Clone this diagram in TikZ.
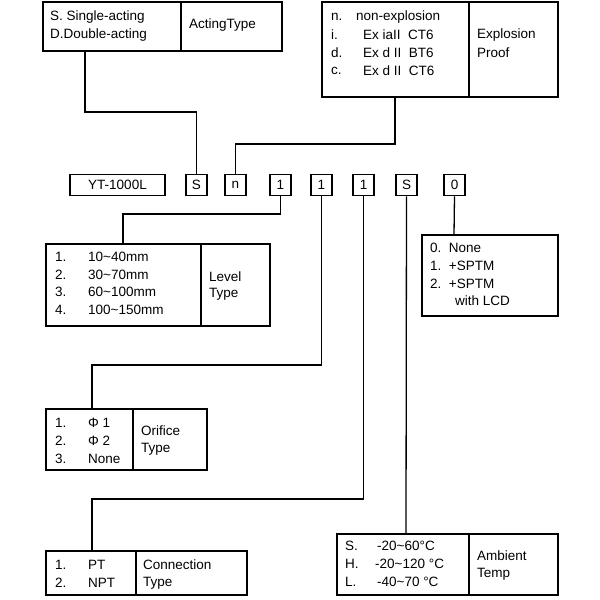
\documentclass[tikz,border=0pt]{standalone}
\usepackage{fontspec}
\setmainfont{Liberation Sans}
\begin{document}
\begin{tikzpicture}[x=1pt,y=-1pt,
  box/.style={draw,line width=1.6pt},
  t/.style={anchor=west,inner sep=0pt,font=\fontsize{13.5}{15}\selectfont},
  code/.style={draw,line width=1.5pt,inner sep=0pt,minimum height=21pt,minimum width=21pt,font=\fontsize{13.5}{15}\selectfont},
  con/.style={line width=1.3pt}]
\useasboundingbox (0,0) rectangle (600,600);
% boxes
\draw[box] (43,2) rectangle (282,51) (181,2)--(181,51);
\draw[box] (322,2) rectangle (558,97) (469,2)--(469,97);
\draw[box] (46,244) rectangle (270,326) (201,244)--(201,326);
\draw[box] (422,235) rectangle (558,316);
\draw[box] (46,409) rectangle (207,470) (133,409)--(133,470);
\draw[box] (46,551) rectangle (247,595) (136,551)--(136,595);
\draw[box] (337,534) rectangle (558,595) (469,534)--(469,595);
% texts
\node[t] (a1) at (50,17) {S. Single-acting};
\node[t] (a2) at (50,35) {D.Double-acting};
\node[t] (a3) at (189,25) {ActingType};
\node[t] (e1) at (331,17) {n.};\node[t] (e1b) at (356,17) {non-explosion};
\node[t] (e2) at (331,35) {i.};\node[t] (e2b) at (363,35) {Ex iaII\ \ CT6};
\node[t] (e3) at (331,53) {d.};\node[t] (e3b) at (363,53) {Ex d II\ \ BT6};
\node[t] (e4) at (331,71) {c.};\node[t] (e4b) at (363,71) {Ex d II\ \ CT6};
\node[t] (e5) at (477,35) {Explosion};
\node[t] (e6) at (477,53) {Proof};
\node[t] (l1) at (55,257) {1.};\node[t] (l1b) at (88,257) {10\textasciitilde40mm};
\node[t] (l2) at (55,275) {2.};\node[t] (l2b) at (88,275) {30\textasciitilde70mm};
\node[t] (l3) at (55,292) {3.};\node[t] (l3b) at (88,292) {60\textasciitilde100mm};
\node[t] (l4) at (55,310) {4.};\node[t] (l4b) at (88,310) {100\textasciitilde150mm};
\node[t] (l5) at (209,277) {Level};
\node[t] (l6) at (209,294) {Type};
\node[t] (z1) at (430,248) {0.\ \ None};
\node[t] (z2) at (430,266) {1.\ \ +SPTM};
\node[t] (z3) at (430,284) {2.\ \ +SPTM};
\node[t] (z4) at (455,301) {with LCD};
\node[t] (o1) at (55,423) {1.};\node[t] (o1b) at (88,423) {Φ 1};
\node[t] (o2) at (55,441) {2.};\node[t] (o2b) at (88,441) {Φ 2};
\node[t] (o3) at (55,459) {3.};\node[t] (o3b) at (88,459) {None};
\node[t] (o4) at (141,431) {Orifice};
\node[t] (o5) at (141,449) {Type};
\node[t] (c1) at (55,565) {1.};\node[t] (c1b) at (88,565) {PT};
\node[t] (c2) at (55,583) {2.};\node[t] (c2b) at (88,583) {NPT};
\node[t] (c3) at (143,565) {Connection};
\node[t] (c4) at (143,583) {Type};
\node[t] (m1) at (345,546) {S.};\node[t] (m1b) at (377,546) {-20\textasciitilde60°C};
\node[t] (m2) at (345,564) {H.};\node[t] (m2b) at (375,564) {-20\textasciitilde120 °C};
\node[t] (m3) at (345,582) {L.};\node[t] (m3b) at (377,582) {-40\textasciitilde70 °C};
\node[t] (m4) at (477,556) {Ambient};
\node[t] (m5) at (477,574) {Temp};
% code row
\node[code,minimum width=95pt] (yt) at (117.5,185) {YT-1000L};
\node[code] (k1) at (196.5,185) {S};
\node[code] (k2) at (235.5,185) {n};
\node[code] (k3) at (280.5,185) {1};
\node[code] (k4) at (321.5,185) {1};
\node[code] (k5) at (363.5,185) {1};
\node[code] (k6) at (406.5,185) {S};
\node[code] (k7) at (454.5,185) {0};
% connector anchors on boxes
\coordinate (pa) at (85,51);
\coordinate (pe) at (395,97);
\coordinate (pl) at (123,244);
\coordinate (po) at (92,409);
\coordinate (pc) at (92,551);
\coordinate (pm) at (406,534);
\coordinate (pz) at (454,235);
\draw[con] (pa) -- (85,112) -| (k1.north);
\draw[con] (pe) -- (395,144) -| (k2.north);
\draw[con] (k3.south) -- (280.5,214) -| (pl);
\draw[con] (k4.south) -- (321.5,365) -| (po);
\draw[con] (k5.south) -- (363.5,499) -| (pc);
\draw[con] (k6.south) -- (pm);
\draw[con] (k7.south) -- (pz);
\end{tikzpicture}
\end{document}
